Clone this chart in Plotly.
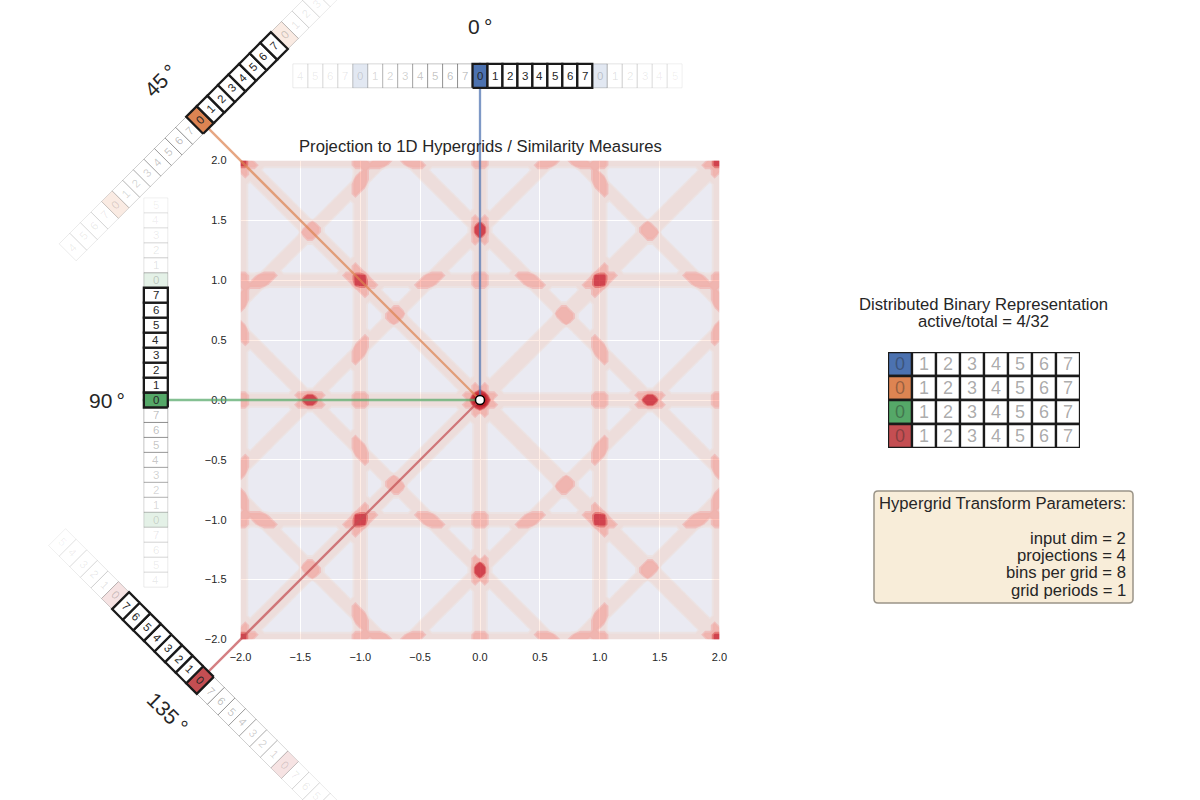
import numpy as np
import plotly.graph_objects as go

# Page layout, in CSS pixels
PAGE_W, PAGE_H = 1200, 800
PLOT_LEFT, PLOT_RIGHT, PLOT_TOP, PLOT_BOTTOM = 240.5, 719.5, 160.5, 639.5
TABLE_LEFT, TABLE_RIGHT, TABLE_TOP, TABLE_BOTTOM = 888.0, 1080.0, 352.0, 448.0

# Hypergrid setup
angles_deg = [0, 45, 90, 135]
angle_names = ["0\u2009°", "45\u2009°", "90\u2009°", "135\u2009°"]
bin_labels = [0, 1, 2, 3, 4, 5, 6, 7]
bin_width = 0.125
grid_step = 0.04
query_point = (0.0, 0.0)
tick_values = [-2.0, -1.5, -1.0, -0.5, 0.0, 0.5, 1.0, 1.5, 2.0]

# Strip placement around the plot, in data units
strip_radius = [2.707, 3.307, 2.707, 3.307]
strip_thickness = 0.2
label_radius = [3.115, 3.77, 3.115, 3.69]
label_rotation = [0, -45, 0, 45]

# Fading of the repeated bins on either side of the active grid
fade_before = [0.30, 0.30, 0.28, 0.26, 0.22, 0.20, 0.18, 0.16, 0.11, 0.10, 0.09, 0.09]
fade_after = [0.22, 0.13, 0.11, 0.09, 0.08, 0.07]

# Colours
projection_colors = ["#4C72B0", "#DD8452", "#55A868", "#C44E52"]
ghost_fill = ["rgba(76,114,176,0.16)", "rgba(221,132,82,0.16)",
              "rgba(85,168,104,0.16)", "rgba(196,78,82,0.16)"]
line_colors = ["rgba(76,114,176,0.72)", "rgba(221,132,82,0.72)",
               "rgba(85,168,104,0.72)", "rgba(196,78,82,0.72)"]
plot_background = (234, 234, 242)
# Colour seen on the plot background at each contour level, and how much of the
# grid it hides. Contour fills are painted over one another, lowest level first.
level_seen = [(237, 228, 228), (240, 222, 220), (246, 190, 178), (246, 178, 164),
              (247, 180, 168), (235, 110, 105), (212, 60, 70), (205, 45, 55), (190, 25, 35)]
level_cover = [0.12, 0.20, 0.30, 0.40, 0.42, 0.60, 0.80, 0.85, 0.90]
TEXT = "#262626"
EDGE = "#1a1a1a"

# Parameter box and captions
panel_title = ["Distributed Binary Representation", "active/total = 4/32"]
box_lines = [("Hypergrid Transform Parameters:", 503), ("input dim = 2", 538),
             ("projections = 4", 555), ("bins per grid = 8", 572), ("grid periods = 1", 590)]
chart_title = "Projection to 1D Hypergrids / Similarity Measures"

scale = (PLOT_RIGHT - PLOT_LEFT) / 4.0
origin_x, origin_y = (PLOT_LEFT + PLOT_RIGHT) / 2, (PLOT_TOP + PLOT_BOTTOM) / 2


def paper_x(px):
    return px / PAGE_W


def paper_y(py):
    return 1 - py / PAGE_H


# Activation count over the input plane: a point scores one for every projection
# whose bin matches the bin of the query point.
axis_samples = np.arange(-50, 51) * grid_step
grid_x, grid_y = np.meshgrid(axis_samples, axis_samples)
activation = np.zeros_like(grid_x)
for angle in angles_deg:
    t = np.deg2rad(angle)
    p = grid_x * np.cos(t) + grid_y * np.sin(t)
    activation += np.abs(p - np.round(p)) < bin_width / 2

# Per-level paint that builds up to level_seen once the fills are stacked
level_colors = ["rgba(0,0,0,0)"]
prev_seen, prev_cover = np.array(plot_background, float), 0.0
for seen, cover in zip(level_seen, level_cover):
    a = 1 - (1 - cover) / (1 - prev_cover)
    paint = np.clip((np.array(seen, float) - prev_seen * (1 - a)) / a, 0, 255)
    level_colors.append(f"rgba({paint[0]:.0f},{paint[1]:.0f},{paint[2]:.0f},{a:.3f})")
    prev_seen, prev_cover = np.array(seen, float), cover

n_levels = len(level_colors)
colorscale = [[0.0, "rgba(0,0,0,0)"]]
for k, c in enumerate(level_colors):
    colorscale.append([(k + 1) / n_levels, c])

fig = go.Figure()

fig.add_shape(type="rect", xref="x", yref="y", x0=-2, x1=2, y0=-2, y1=2,
              fillcolor="#EAEAF2", line_width=0, layer="below")

fig.add_trace(go.Contour(
    x=axis_samples, y=axis_samples, z=activation,
    autocontour=False,
    contours=dict(start=-0.02, end=3.58, size=0.4, coloring="fill", showlines=False),
    colorscale=colorscale, showscale=False, line=dict(width=0, smoothing=0),
    hoverinfo="skip", xaxis="x", yaxis="y",
))


def cell_outline(angle, radius, index, length, thickness):
    t = np.deg2rad(angle)
    u = np.array([np.cos(t), np.sin(t)])
    n = np.array([-np.sin(t), np.cos(t)])
    c = radius * n + index * length * u
    corners = [c - u * length / 2 - n * thickness / 2,
               c + u * length / 2 - n * thickness / 2,
               c + u * length / 2 + n * thickness / 2,
               c - u * length / 2 + n * thickness / 2]
    corners.append(corners[0])
    return [p[0] for p in corners], [p[1] for p in corners], c


annotations = []


def add_cell(pos, fill, edge, width):
    xs, ys = pos
    fig.add_trace(go.Scatter(x=xs, y=ys, mode="lines", fill="toself", fillcolor=fill,
                             line=dict(color=edge, width=width), hoverinfo="skip",
                             showlegend=False, xaxis="x2", yaxis="y2"))


# Rays from the query point out to each active bin
for j, angle in enumerate(angles_deg):
    t = np.deg2rad(angle)
    reach = strip_radius[j] + 0.11
    fig.add_trace(go.Scatter(x=[query_point[0], -np.sin(t) * reach],
                             y=[query_point[1], np.cos(t) * reach],
                             mode="lines", line=dict(color=line_colors[j], width=2.3),
                             hoverinfo="skip", showlegend=False, xaxis="x2", yaxis="y2"))

fig.add_trace(go.Scatter(x=[query_point[0]], y=[query_point[1]], mode="markers",
                         marker=dict(color="white", size=9, line=dict(color="black", width=1.5)),
                         hoverinfo="skip", showlegend=False, xaxis="x2", yaxis="y2"))

# One strip per projection: faded repeats, then the active grid on top
for j, angle in enumerate(angles_deg):
    n_bins = len(bin_labels)
    for d, alpha in list(enumerate(fade_before, 1)) + [(-(d + 1), a) for d, a in enumerate(fade_after)]:
        i = -d if d > 0 else n_bins - 1 - d
        xs, ys, c = cell_outline(angle, strip_radius[j], i, bin_width, strip_thickness)
        fill = ghost_fill[j] if i % n_bins == 0 else "rgba(255,255,255,0)"
        add_cell((xs, ys), fill, f"rgba(38,38,38,{alpha})", 1)
        annotations.append(dict(x=c[0], y=c[1], xref="x2", yref="y2", showarrow=False,
                                text=str(bin_labels[i % n_bins]), textangle=label_rotation[j],
                                font=dict(size=11.5, color=f"rgba(38,38,38,{alpha})")))
    for i in range(n_bins):
        xs, ys, c = cell_outline(angle, strip_radius[j], i, bin_width, strip_thickness)
        fill = projection_colors[j] if i == 0 else "white"
        add_cell((xs, ys), fill, EDGE, 2.3)
        annotations.append(dict(x=c[0], y=c[1], xref="x2", yref="y2", showarrow=False,
                                text=str(bin_labels[i]), textangle=label_rotation[j],
                                font=dict(size=11.5, color=TEXT)))
    t = np.deg2rad(angle)
    annotations.append(dict(x=-np.sin(t) * label_radius[j], y=np.cos(t) * label_radius[j],
                            xref="x2", yref="y2", showarrow=False, text=angle_names[j],
                            textangle=label_rotation[j], font=dict(size=21, color=TEXT)))

# Distributed representation table
for r, angle in enumerate(angles_deg):
    for col, b in enumerate(bin_labels):
        xs = [col, col + 1, col + 1, col, col]
        ys = [r, r, r + 1, r + 1, r]
        fill = projection_colors[r] if col == 0 else "white"
        fig.add_trace(go.Scatter(x=xs, y=ys, mode="lines", fill="toself", fillcolor=fill,
                                 line=dict(color=EDGE, width=2.3), hoverinfo="skip",
                                 showlegend=False, xaxis="x3", yaxis="y3"))
        annotations.append(dict(x=col + 0.5, y=r + 0.5, xref="x3", yref="y3", showarrow=False,
                                text=str(b), font=dict(size=18, color="rgba(38,38,38,0.4)")))
    annotations.append(dict(x=-0.6, y=r + 0.5, xref="x3", yref="y3", showarrow=False,
                            xanchor="right", text=angle_names[r], font=dict(size=16.67, color=TEXT)))

annotations.append(dict(x=paper_x(480), y=paper_y(146), xref="paper", yref="paper", showarrow=False,
                        xanchor="center", yanchor="middle", text=chart_title,
                        font=dict(size=16.67, color=TEXT)))
for text, py in zip(panel_title, [304, 321]):
    annotations.append(dict(x=paper_x(983.5), y=paper_y(py), xref="paper", yref="paper",
                            xanchor="center", yanchor="middle", showarrow=False, text=text,
                            font=dict(size=16.67, color=TEXT)))
for text, py in box_lines:
    annotations.append(dict(x=paper_x(1127.5), y=paper_y(py), xref="paper", yref="paper",
                            showarrow=False, xanchor="right", yanchor="middle", text=text,
                            font=dict(size=16.67, color=TEXT)))

# Rounded parameter box
x0, x1, y0, y1, r = paper_x(874), paper_x(1133), paper_y(603), paper_y(491), 4
rx, ry = r / PAGE_W, r / PAGE_H
box_path = (f"M {x0 + rx} {y1} L {x1 - rx} {y1} Q {x1} {y1} {x1} {y1 - ry} "
            f"L {x1} {y0 + ry} Q {x1} {y0} {x1 - rx} {y0} L {x0 + rx} {y0} "
            f"Q {x0} {y0} {x0} {y0 + ry} L {x0} {y1 - ry} Q {x0} {y1} {x0 + rx} {y1} Z")
fig.add_shape(type="path", path=box_path, xref="paper", yref="paper",
              fillcolor="#F8EDD9", line=dict(color="#9A9488", width=1.5), layer="below")

hidden = dict(visible=False, showgrid=False, zeroline=False, fixedrange=True, automargin=False)
fig.update_layout(
    template="none",
    width=PAGE_W, height=PAGE_H, margin=dict(l=0, r=0, t=0, b=0, pad=0),
    paper_bgcolor="white", plot_bgcolor="rgba(0,0,0,0)",
    font=dict(family="Liberation Sans, Arial, sans-serif", color=TEXT),
    showlegend=False, annotations=annotations,
    xaxis=dict(domain=[paper_x(PLOT_LEFT), paper_x(PLOT_RIGHT)], range=[-2, 2],
               tickvals=tick_values, tickformat=".1f", gridcolor="white", gridwidth=1,
               zeroline=False, showline=False, ticks="", ticklabelstandoff=9,
               tickfont=dict(size=11, color=TEXT), anchor="y", fixedrange=True, automargin=False),
    yaxis=dict(domain=[paper_y(PLOT_BOTTOM), paper_y(PLOT_TOP)], range=[-2, 2],
               tickvals=tick_values, tickformat=".1f", gridcolor="white", gridwidth=1,
               zeroline=False, showline=False, ticks="", ticklabelstandoff=13,
               tickfont=dict(size=11, color=TEXT), anchor="x", fixedrange=True, automargin=False),
    xaxis2=dict(domain=[0, 1], range=[-origin_x / scale, (PAGE_W - origin_x) / scale],
                anchor="y2", **hidden),
    yaxis2=dict(domain=[0, 1], range=[-(PAGE_H - origin_y) / scale, origin_y / scale],
                anchor="x2", **hidden),
    xaxis3=dict(domain=[paper_x(TABLE_LEFT), paper_x(TABLE_RIGHT)], range=[0, 8],
                anchor="y3", **hidden),
    yaxis3=dict(domain=[paper_y(TABLE_BOTTOM), paper_y(TABLE_TOP)], range=[4, 0],
                anchor="x3", **hidden),
)

fig.write_html("out.html", config=dict(displayModeBar=False))
